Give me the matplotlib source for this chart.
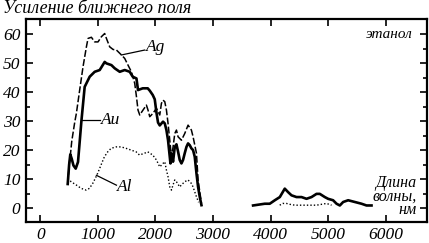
import numpy as np
import matplotlib
matplotlib.use("Agg")
import matplotlib.pyplot as plt

plt.rcParams['font.family'] = ['Liberation Serif', 'DejaVu Serif']
plt.rcParams['font.style'] = 'italic'

# near-field enhancement, ethanol, vs wavelength (nm)
au_x = [475, 500, 520, 545, 575, 614, 654, 683, 713, 770, 857, 944, 1031, 1118, 1148,
        1235, 1292, 1379, 1466, 1553, 1605, 1670, 1697, 1779, 1866, 1901, 1953, 1988,
        2017, 2045, 2075, 2132, 2162, 2191, 2219, 2249, 2261, 2278, 2306, 2336, 2365,
        2393, 2422, 2452, 2480, 2509, 2539, 2567, 2596, 2625, 2654, 2683, 2713, 2741,
        2770, 2800]
au_y = [8.3, 15, 18.5, 17, 14.7, 13.6, 15.9, 22.8, 30, 41.8, 45.3, 47, 47.6, 50.4, 49.9,
        49.3, 48.2, 47, 47.6, 47, 45.3, 44.7, 40.7, 41.3, 41.3, 40.5, 39, 37.5,
        33, 29.5, 28.5, 29.8, 29.2, 26.9, 23.4, 17.7, 15.4, 18.9, 16, 21.1, 22, 19.5,
        16.6, 15.4, 16.6, 18.9, 21.1, 22.3, 21.7, 20.6, 20, 17.7, 12, 7.3,
        3.9, 1.0]

ag_x = [475, 500, 520, 545, 597, 626, 683, 741, 800, 828, 887, 944, 1002, 1061, 1118,
        1148, 1205, 1263, 1322, 1409, 1466, 1523, 1582, 1640, 1670, 1697, 1727, 1784,
        1843, 1871, 1901, 1958, 2017, 2075, 2104, 2132, 2162, 2191, 2219, 2249, 2278,
        2306, 2336, 2365, 2393, 2452, 2509, 2567, 2625, 2654, 2713, 2741, 2800]
ag_y = [8.3, 15, 18, 23, 29.6, 32.7, 40.7, 48.7, 55.6, 58.5, 58.9, 57.3, 57.3, 59.1, 60.2,
        58.5, 55.6, 54.7, 54.5, 52.8, 51.6, 49.3, 47, 43, 38.4, 33.8, 32.1, 33.8,
        35.5, 33.8, 31.5, 32.7, 34.4, 32.1, 36.1, 37.2, 36.7, 33.8, 29.2, 23.4, 17.5,
        21, 25.7, 26.9, 24.6, 23.4, 25.7, 28.6, 26.9, 24.6, 18.9, 9.7, 1.6]

al_x = [475, 534, 621, 708, 795, 852, 910, 968, 996, 1055, 1113, 1171, 1229, 1316, 1403,
        1490, 1577, 1664, 1722, 1809, 1866, 1953, 2017, 2075, 2132, 2162, 2191, 2219,
        2249, 2278, 2306, 2336, 2365, 2422, 2452, 2509, 2567, 2625, 2654, 2683, 2713,
        2750]
al_y = [10.2, 9.1, 8, 6.8, 6.2, 6.8, 8.5, 10.8, 12, 14.9, 17.7, 19.4, 20.6, 21.1, 21.1,
        20.6, 20, 19.4, 18.3, 18.9, 19.4, 18.3, 16.6, 14.2, 15.4, 16, 13.1, 10.8,
        7.3, 6.2, 8, 9.7, 9.1, 7.3, 8, 9.1, 9.7, 8.5, 7.3, 5.6, 3.9, 2.0]

# second band (mid-IR)
au2_x = [3697, 3900, 3987, 4075, 4162, 4248, 4306, 4365, 4452, 4539, 4626, 4713, 4800,
         4857, 4944, 5001, 5088, 5148, 5205, 5263, 5350, 5466, 5582, 5669, 5756]
au2_y = [0.9, 1.5, 1.5, 2.7, 3.8, 6.7, 5.5, 4.4, 3.8, 3.8, 3.2, 3.8, 4.9,
         4.9, 3.8, 3.2, 2.7, 1.5, 0.9, 2.1, 2.7, 2.1, 1.5, 0.9, 0.9]
al2_x = [4160, 4215, 4278, 4336, 4422, 4626, 4800, 4974, 5061]
al2_y = [1.0, 1.6, 1.6, 1.3, 1.0, 1.0, 1.0, 1.6, 1.0]

fig = plt.figure(figsize=(4.29, 2.43), dpi=100)
ax = fig.add_axes([0.0606, 0.0864, 0.9347, 0.8354])

ax.plot(au_x, au_y, color='black', lw=1.9)
ax.plot(ag_x, ag_y, color='black', lw=1.1, dashes=(4.5, 1.5))
ax.plot(al_x, al_y, color='black', lw=1.0, linestyle=(0, (1, 1.5)))
ax.plot(au2_x, au2_y, color='black', lw=1.9)
ax.plot(al2_x, al2_y, color='black', lw=1.0, linestyle=(0, (1, 1.5)))

# labels with leader lines
ax.plot([1409, 1814], [52.8, 54.5], color='black', lw=0.9)
ax.text(1840, 55.5, 'Ag', fontsize=12.5, va='center', ha='left')
ax.plot([718, 1031], [30.3, 30.3], color='black', lw=0.9)
ax.text(1060, 30.3, 'Au', fontsize=12.5, va='center', ha='left')
ax.plot([974, 1322], [11.3, 7.9], color='black', lw=0.9)
ax.text(1330, 7.3, 'Al', fontsize=12.5, va='center', ha='left')

ax.text(6480, 59.7, 'этанол', fontsize=11, va='center', ha='right')
ax.text(6544, 4.0, 'Длина\nволны,\nнм', fontsize=11.5, va='center', ha='right',
        multialignment='right', linespacing=0.82)

fig.text(0.007, 0.965, 'Усиление ближнего поля', fontsize=13, va='center', ha='left')

ax.set_xlim(-250, 6720)
ax.set_ylim(-4.8, 65.2)
ax.set_xticks([0, 1000, 2000, 3000, 4000, 5000, 6000])
ax.set_yticks([0, 10, 20, 30, 40, 50, 60])
ax.set_yticks(np.arange(5, 65, 10), minor=True)
ax.tick_params(which='both', direction='in', top=True, right=True, width=1.2,
               labelsize=12.5)
ax.tick_params(which='major', length=5)
ax.tick_params(which='minor', length=3)
ax.tick_params(axis='x', pad=3.5)
ax.tick_params(axis='y', pad=4)
for s in ax.spines.values():
    s.set_linewidth(1.6)

fig.savefig('out.png', dpi=100)
